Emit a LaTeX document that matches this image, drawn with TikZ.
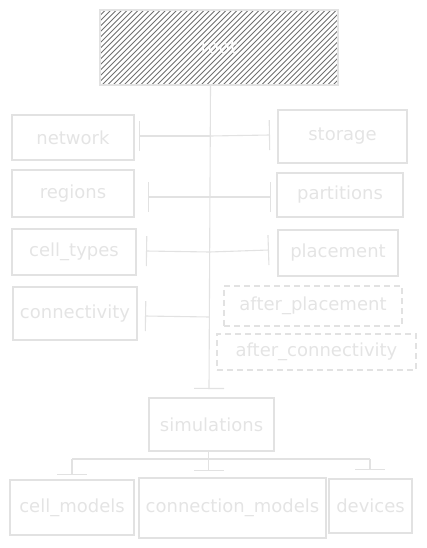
\documentclass[tikz,border=0pt]{standalone}
\usepackage{fontspec}
\setmainfont{DejaVu Sans}
\usetikzlibrary{arrows.meta}
\definecolor{lightline}{HTML}{E2E2E2}
\definecolor{lighttext}{HTML}{E4E4E4}
\definecolor{hatch}{HTML}{707070}
\tikzset{
  box/.style={draw=lightline, line width=1.1pt, rectangle, inner sep=0pt,
    text=lighttext, font=\fontsize{18}{20}\selectfont},
  dbox/.style={box, dash pattern=on 6pt off 4pt},
  conn/.style={draw=lightline, line width=1.1pt},
  barend/.style={conn, -{Bar[width=30pt, line width=1.1pt]}},
}
\begin{document}
\begin{tikzpicture}[x=1pt,y=-1pt]
\useasboundingbox (0,0) rectangle (427,548);
% root with hatching
\begin{scope}
  \clip (100,10) rectangle (338,85);
  \foreach \k in {0,5.5,...,340}{
    \draw[hatch, line width=0.9pt] (100+\k-75,85) -- (100+\k,10);
  }
\end{scope}
\node[box, minimum width=238pt, minimum height=75pt, text=white] (root) at (219,47.5) {root};
% left column
\node[box, minimum width=122pt, minimum height=45pt] (network) at (73,137.5) {network};
\node[box, minimum width=122pt, minimum height=47pt] (regions) at (73,193.5) {regions};
\node[box, minimum width=124pt, minimum height=46pt] (celltypes) at (74,252) {cell\_types};
\node[box, minimum width=124pt, minimum height=53pt] (connectivity) at (75,313.5) {connectivity};
% right column
\node[box, minimum width=129pt, minimum height=53pt] (storage) at (342.5,136.5) {storage};
\node[box, minimum width=126pt, minimum height=44pt] (partitions) at (340,195) {partitions};
\node[box, minimum width=120pt, minimum height=46pt] (placement) at (338,253) {placement};
\node[dbox, minimum width=178pt, minimum height=40pt] (afterplacement) at (313,306) {after\_placement};
\node[dbox, minimum width=199pt, minimum height=36pt] (afterconnectivity) at (316.5,352) {after\_connectivity};
% simulations
\node[box, minimum width=125pt, minimum height=53pt] (simulations) at (211.5,424.5) {simulations};
\node[box, minimum width=124pt, minimum height=55pt] (cellmodels) at (72,507.5) {cell\_models};
\node[box, minimum width=187pt, minimum height=60pt] (connectionmodels) at (232.5,508) {connection\_models};
\node[box, minimum width=83pt, minimum height=54pt] (devices) at (370.5,506) {devices};
% trunk coordinates
\coordinate (jnet) at (210.5,136);
\coordinate (jreg) at (210,197);
\coordinate (jct) at (209.5,252);
\coordinate (jcon) at (209.5,317);
\coordinate (trunkend) at (209,389);
\coordinate (bnet) at (139,136);
\coordinate (bsto) at (270,135);
\coordinate (breg) at (148,197);
\coordinate (bpar) at (271,197);
\coordinate (bct) at (146,251);
\coordinate (bpla) at (269,250);
\coordinate (bcon) at (145,316);
\draw[barend] (root.south -| jnet) -- (trunkend);
\draw[barend] (jnet) -- (bnet);
\draw[barend] (jnet) -- (bsto);
\draw[barend] (jreg) -- (breg);
\draw[barend] (jreg) -- (bpar);
\draw[barend] (jct) -- (bct);
\draw[barend] (jct) -- (bpla);
\draw[barend] (jcon) -- (bcon);
% simulations tree
\coordinate (sj) at (208.5,459);
\coordinate (sl) at (72,459);
\coordinate (sr) at (370,459);
\coordinate (dl) at (72,475);
\coordinate (dm) at (208.5,471);
\coordinate (dr) at (370,470);
\draw[conn] (simulations.south -| sj) -- (sj);
\draw[conn] (sl) -- (sr);
\draw[barend] (sl) -- (dl);
\draw[barend] (sj) -- (dm);
\draw[barend] (sr) -- (dr);
\end{tikzpicture}
\end{document}
